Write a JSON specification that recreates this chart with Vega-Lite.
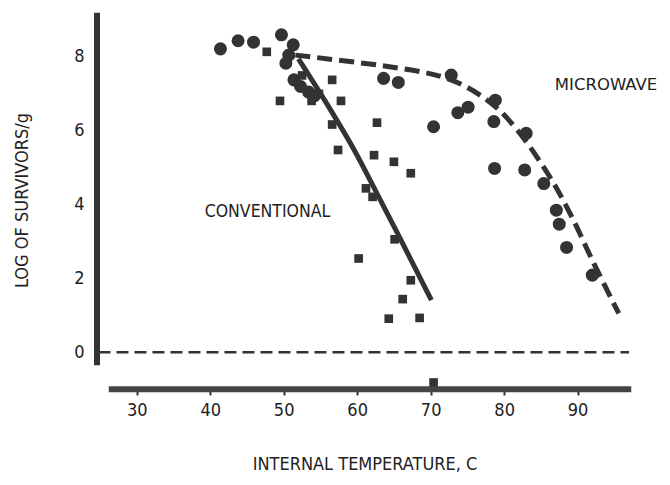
{
  "$schema": "https://vega.github.io/schema/vega-lite/v6.json",
  "autosize": "none",
  "width": 535,
  "height": 382,
  "padding": {"left": 97, "top": 9, "right": 38, "bottom": 94},
  "background": "white",
  "config": {
    "view": {"stroke": null},
    "font": "Liberation Sans Narrow, DejaVu Sans Condensed, sans-serif"
  },
  "datasets": {
    "points": [
      {"series": "microwave", "temp": 41.4, "log": 8.22},
      {"series": "microwave", "temp": 43.8, "log": 8.44},
      {"series": "microwave", "temp": 45.9, "log": 8.40},
      {"series": "microwave", "temp": 49.7, "log": 8.60},
      {"series": "microwave", "temp": 51.3, "log": 8.33},
      {"series": "microwave", "temp": 50.7, "log": 8.05},
      {"series": "microwave", "temp": 50.3, "log": 7.83},
      {"series": "microwave", "temp": 51.4, "log": 7.38},
      {"series": "microwave", "temp": 52.3, "log": 7.20},
      {"series": "microwave", "temp": 53.4, "log": 7.05},
      {"series": "microwave", "temp": 54.2, "log": 6.95},
      {"series": "microwave", "temp": 63.6, "log": 7.42},
      {"series": "microwave", "temp": 65.6, "log": 7.31},
      {"series": "microwave", "temp": 72.8, "log": 7.51},
      {"series": "microwave", "temp": 70.4, "log": 6.11},
      {"series": "microwave", "temp": 73.7, "log": 6.49},
      {"series": "microwave", "temp": 75.1, "log": 6.64},
      {"series": "microwave", "temp": 78.8, "log": 6.83},
      {"series": "microwave", "temp": 78.6, "log": 6.25},
      {"series": "microwave", "temp": 83.0, "log": 5.93},
      {"series": "microwave", "temp": 78.7, "log": 4.98},
      {"series": "microwave", "temp": 82.8, "log": 4.94},
      {"series": "microwave", "temp": 85.4, "log": 4.57},
      {"series": "microwave", "temp": 87.1, "log": 3.85},
      {"series": "microwave", "temp": 87.5, "log": 3.47},
      {"series": "microwave", "temp": 88.5, "log": 2.84},
      {"series": "microwave", "temp": 92.0, "log": 2.09},
      {"series": "conventional", "temp": 47.7, "log": 8.14},
      {"series": "conventional", "temp": 49.5, "log": 6.81},
      {"series": "conventional", "temp": 52.5, "log": 7.50},
      {"series": "conventional", "temp": 54.8, "log": 7.00},
      {"series": "conventional", "temp": 53.8, "log": 6.81},
      {"series": "conventional", "temp": 56.6, "log": 7.38},
      {"series": "conventional", "temp": 57.8, "log": 6.81},
      {"series": "conventional", "temp": 56.6, "log": 6.17},
      {"series": "conventional", "temp": 57.4, "log": 5.48},
      {"series": "conventional", "temp": 62.7, "log": 6.22},
      {"series": "conventional", "temp": 62.3, "log": 5.34},
      {"series": "conventional", "temp": 65.0, "log": 5.16},
      {"series": "conventional", "temp": 67.3, "log": 4.85},
      {"series": "conventional", "temp": 61.2, "log": 4.44},
      {"series": "conventional", "temp": 62.1, "log": 4.21},
      {"series": "conventional", "temp": 65.1, "log": 3.06},
      {"series": "conventional", "temp": 60.2, "log": 2.54},
      {"series": "conventional", "temp": 67.3, "log": 1.95},
      {"series": "conventional", "temp": 66.2, "log": 1.44},
      {"series": "conventional", "temp": 64.3, "log": 0.91},
      {"series": "conventional", "temp": 68.5, "log": 0.93},
      {"series": "conventional", "temp": 70.4, "log": -0.82}
    ],
    "curves": [
      {"series": "conventional", "temp": 52.0, "log": 7.95},
      {"series": "conventional", "temp": 56.4, "log": 6.56},
      {"series": "conventional", "temp": 59.6, "log": 5.48},
      {"series": "conventional", "temp": 62.7, "log": 4.30},
      {"series": "conventional", "temp": 65.5, "log": 3.22},
      {"series": "conventional", "temp": 70.1, "log": 1.41},
      {"series": "microwave", "temp": 51.6, "log": 8.05},
      {"series": "microwave", "temp": 64.6, "log": 7.73},
      {"series": "microwave", "temp": 72.2, "log": 7.42},
      {"series": "microwave", "temp": 77.7, "log": 6.83},
      {"series": "microwave", "temp": 81.8, "log": 6.02},
      {"series": "microwave", "temp": 85.9, "log": 4.85},
      {"series": "microwave", "temp": 89.0, "log": 3.75},
      {"series": "microwave", "temp": 92.2, "log": 2.41},
      {"series": "microwave", "temp": 95.6, "log": 1.05}
    ],
    "labels": [
      {"text": "CONVENTIONAL", "temp": 47.8, "log": 3.8, "anchor": "center"},
      {"text": "MICROWAVE", "temp": 86.9, "log": 7.24, "anchor": "left"}
    ]
  },
  "layer": [
    {
      "data": {"values": [{}]},
      "mark": {"type": "rule", "color": "#333", "strokeWidth": 2.5, "strokeDash": [12, 6]},
      "encoding": {
        "x": {"datum": 24.8, "type": "quantitative", "scale": {"domain": [24.6, 97.4], "nice": false, "zero": false},
          "axis": {"values": [30, 40, 50, 60, 70, 80, 90], "domain": false, "grid": false, "tickSize": 4, "tickWidth": 2, "tickColor": "#333",
            "labelFontSize": 18, "labelColor": "#222", "labelPadding": 6, "title": "INTERNAL TEMPERATURE, C", "titleFontSize": 18, "titleFontWeight": "normal", "titleColor": "#222", "titlePadding": 36}},
        "x2": {"datum": 97.0},
        "y": {"datum": 0, "type": "quantitative", "scale": {"domain": [-1.05, 9.3], "nice": false, "zero": false},
          "axis": {"values": [0, 2, 4, 6, 8], "domain": false, "grid": false, "tickSize": 3, "tickWidth": 2, "tickColor": "#333",
            "labelFontSize": 18, "labelColor": "#222", "labelPadding": 10, "title": "LOG OF SURVIVORS/g", "titleFontSize": 18, "titleFontWeight": "normal", "titleColor": "#222", "titlePadding": 42}}
      }
    },
    {
      "data": {"values": [{}]},
      "mark": {"type": "rule", "color": "#333", "strokeWidth": 6},
      "encoding": {"x": {"datum": 24.6}, "y": {"datum": -0.35}, "y2": {"datum": 9.2}}
    },
    {
      "data": {"values": [{}]},
      "mark": {"type": "rule", "color": "#444", "strokeWidth": 6},
      "encoding": {"x": {"datum": 26.2}, "x2": {"datum": 97.3}, "y": {"datum": -1.0}}
    },
    {
      "data": {"name": "curves"},
      "transform": [{"filter": "datum.series === 'conventional'"}],
      "mark": {"type": "line", "color": "#333", "strokeWidth": 5, "interpolate": "monotone"},
      "encoding": {"x": {"field": "temp", "type": "quantitative"}, "y": {"field": "log", "type": "quantitative"}}
    },
    {
      "data": {"name": "curves"},
      "transform": [{"filter": "datum.series === 'microwave'"}],
      "mark": {"type": "line", "color": "#333", "strokeWidth": 5, "strokeDash": [15, 7], "interpolate": "cardinal"},
      "encoding": {"x": {"field": "temp", "type": "quantitative"}, "y": {"field": "log", "type": "quantitative"}}
    },
    {
      "data": {"name": "points"},
      "transform": [{"filter": "datum.series === 'microwave'"}],
      "mark": {"type": "point", "shape": "circle", "filled": true, "color": "#333", "opacity": 1, "size": 170},
      "encoding": {"x": {"field": "temp", "type": "quantitative"}, "y": {"field": "log", "type": "quantitative"}}
    },
    {
      "data": {"name": "points"},
      "transform": [{"filter": "datum.series === 'conventional'"}],
      "mark": {"type": "point", "shape": "square", "filled": true, "color": "#333", "opacity": 1, "size": 75},
      "encoding": {"x": {"field": "temp", "type": "quantitative"}, "y": {"field": "log", "type": "quantitative"}}
    },
    {
      "data": {"name": "labels"},
      "transform": [{"filter": "datum.anchor === 'center'"}],
      "mark": {"type": "text", "align": "center", "baseline": "middle", "fontSize": 17.5, "color": "#222"},
      "encoding": {"x": {"field": "temp", "type": "quantitative"}, "y": {"field": "log", "type": "quantitative"}, "text": {"field": "text"}}
    },
    {
      "data": {"name": "labels"},
      "transform": [{"filter": "datum.anchor === 'left'"}],
      "mark": {"type": "text", "align": "left", "baseline": "middle", "fontSize": 16.5, "font": "DejaVu Sans", "color": "#222"},
      "encoding": {"x": {"field": "temp", "type": "quantitative"}, "y": {"field": "log", "type": "quantitative"}, "text": {"field": "text"}}
    }
  ]
}
